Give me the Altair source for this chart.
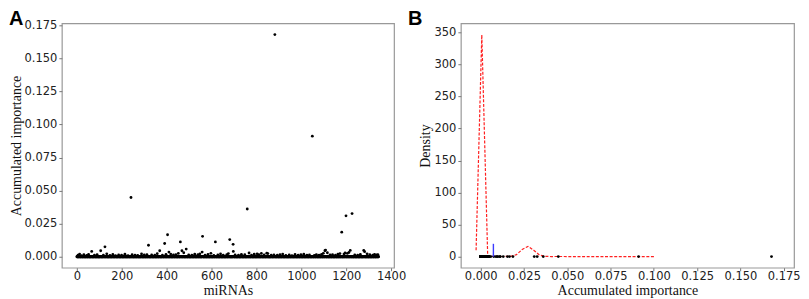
import altair as alt
import pandas as pd

# ---------------- data ----------------
N_MIRNA = 1345

# clearly visible outliers (index, accumulated importance)
major_idx = [125, 241, 319, 391, 404, 461, 560, 617, 681, 696, 759, 882, 1049, 1180, 1199, 1226]
major_val = [0.0075, 0.0448, 0.0087, 0.0100, 0.0166, 0.0112, 0.0154, 0.0112, 0.0130, 0.0094,
             0.0361, 0.1680, 0.0912, 0.0186, 0.0309, 0.0326]

# small bumps on the near-zero band
minor_idx = [5, 12, 20, 31, 44, 52, 66, 78, 90, 106, 118, 133, 147, 160, 172, 186, 199, 214, 228,
             246, 259, 271, 288, 300, 312, 333, 347, 358, 369, 381, 397, 410, 418, 430, 441, 452,
             468, 476, 487, 498, 512, 525, 539, 548, 558, 571, 584, 597, 610, 628, 640, 652, 668,
             675, 697, 705, 720, 733, 748, 767, 778, 790, 803, 811, 822, 834, 846, 851, 866, 878,
             893, 905, 917, 931, 946, 958, 972, 986, 998, 1011, 1025, 1036, 1058, 1067, 1079,
             1090, 1098, 1105, 1108, 1116, 1128, 1139, 1152, 1163, 1172, 1190, 1195, 1205, 1212,
             1218, 1238, 1251, 1263, 1278, 1282, 1293, 1305, 1318, 1326, 1335, 1341]
minor_val = [0.0012, 0.0020, 0.0008, 0.0015, 0.0010, 0.0018, 0.0040, 0.0011, 0.0016, 0.0045,
             0.0012, 0.0022, 0.0010, 0.0017, 0.0009, 0.0014, 0.0011, 0.0019, 0.0008, 0.0015,
             0.0012, 0.0010, 0.0021, 0.0013, 0.0016, 0.0014, 0.0011, 0.0023, 0.0045, 0.0012,
             0.0018, 0.0035, 0.0020, 0.0013, 0.0016, 0.0025, 0.0045, 0.0030, 0.0058, 0.0014,
             0.0011, 0.0019, 0.0015, 0.0022, 0.0035, 0.0012, 0.0017, 0.0026, 0.0010, 0.0014,
             0.0021, 0.0012, 0.0016, 0.0024, 0.0040, 0.0013, 0.0011, 0.0018, 0.0015, 0.0028,
             0.0012, 0.0019, 0.0022, 0.0016, 0.0025, 0.0013, 0.0027, 0.0024, 0.0012, 0.0014,
             0.0011, 0.0016, 0.0020, 0.0010, 0.0013, 0.0009, 0.0017, 0.0012, 0.0015, 0.0019,
             0.0011, 0.0014, 0.0010, 0.0016, 0.0012, 0.0018, 0.0026, 0.0045, 0.0050, 0.0030,
             0.0013, 0.0016, 0.0011, 0.0019, 0.0024, 0.0020, 0.0028, 0.0025, 0.0032, 0.0048,
             0.0014, 0.0011, 0.0017, 0.0048, 0.0038, 0.0022, 0.0015, 0.0012, 0.0018, 0.0013,
             0.0016]

# density curve of panel B (dashed red)
kde_x = [-0.0027, 0.0006, 0.0040, 0.0073, 0.0106, 0.0139, 0.0173, 0.0206, 0.0239, 0.0273,
         0.0306, 0.0339, 0.0373, 0.0406, 0.0439, 0.0472, 0.0506, 0.0539, 0.0572, 0.0606,
         0.0639, 0.0672, 0.0706, 0.0739, 0.0772, 0.0805, 0.0839, 0.0872, 0.0905, 0.0939,
         0.0972, 0.1005]
kde_y = [10, 346, 1.5, 0.3, 0.2, 0.2, 0.5, 3.0, 11.0, 16.0,
         10.0, 2.5, 0.4, 0.1, 0.2, 0.2, 0.1, 0.0, 0.0, 0.0,
         0.0, 0.0, 0.0, 0.0, 0.0, 0.0, 0.0, 0.0, 0.1, 0.1,
         0.0, 0.0]

# blue marker line
blue_x = [0.0073]
blue_y0 = [0]
blue_y1 = [20]

xA_ticks = [0, 200, 400, 600, 800, 1000, 1200, 1400]
yA_ticks = [0.0, 0.025, 0.05, 0.075, 0.1, 0.125, 0.15, 0.175]
xB_ticks = [0.0, 0.025, 0.05, 0.075, 0.1, 0.125, 0.15, 0.175]
yB_ticks = [0, 50, 100, 150, 200, 250, 300, 350]

vals = [0.0] * N_MIRNA
for i, v in zip(minor_idx, minor_val):
    vals[i] = v
for i, v in zip(major_idx, major_val):
    vals[i] = v

dfA = pd.DataFrame({"idx": list(range(N_MIRNA)), "imp": vals})
dfB_pts = pd.DataFrame({"imp": vals, "zero": [0.0] * N_MIRNA})
dfK = pd.DataFrame({"x": kde_x, "y": kde_y})
dfBlue = pd.DataFrame({"x": blue_x, "y0": blue_y0, "y1": blue_y1})

LABEL_FONT = "DejaVu Sans"
TITLE_FONT = "Liberation Serif"


def axis(values, title, fmt, label_pad, title_pad):
    return alt.Axis(values=values, title=title, format=fmt, grid=False, domain=False,
                    tickSize=3, tickColor="#777", labelFont=LABEL_FONT, labelFontSize=11.5,
                    labelColor="#222", labelPadding=label_pad, labelOverlap=False, labelFlush=False,
                    titleFont=TITLE_FONT, titleFontSize=14,
                    titleFontWeight="normal", titleColor="#111", titlePadding=title_pad)


W_A, W_B, H = 333, 334, 245

xA = alt.X("idx:Q", scale=alt.Scale(domain=[-67, 1413], nice=False, zero=False),
           axis=axis(xA_ticks, "miRNAs", "d", 0, 1))
yA = alt.Y("imp:Q", scale=alt.Scale(domain=[-0.0083, 0.1765], nice=False, zero=False),
           axis=axis(yA_ticks, "Accumulated importance", ".3f", 2, 1))

ptsA = alt.Chart(dfA).mark_circle(size=8, color="black", opacity=1).encode(x=xA, y=yA)
letterA = alt.Chart(pd.DataFrame({"t": ["A"]})).mark_text(
    font="Liberation Sans", fontWeight="bold", fontSize=20, align="left", baseline="alphabetic",
    color="black").encode(x=alt.value(-53), y=alt.value(2), text="t:N")
panelA = alt.layer(ptsA, letterA).properties(width=W_A, height=H)

xsB = alt.Scale(domain=[-0.0115, 0.181], nice=False, zero=False)
ysB = alt.Scale(domain=[-17.3, 364], nice=False, zero=False)
xB_axis = axis(xB_ticks, "Accumulated importance", ".3f", 0, 1)
yB_axis = axis(yB_ticks, "Density", "d", 2, 1)

kde = alt.Chart(dfK).mark_line(color="#ff2020", strokeDash=[3, 1.6], strokeWidth=1.2).encode(
    x=alt.X("x:Q", scale=xsB, axis=xB_axis),
    y=alt.Y("y:Q", scale=ysB, axis=yB_axis))
ptsB = alt.Chart(dfB_pts).mark_circle(size=8, color="black", opacity=1).encode(
    x=alt.X("imp:Q", scale=xsB, axis=xB_axis), y=alt.Y("zero:Q", scale=ysB, axis=yB_axis))
blue = alt.Chart(dfBlue).mark_rule(color="#3c3cff", strokeWidth=1.4).encode(
    x=alt.X("x:Q", scale=xsB, axis=xB_axis), y=alt.Y("y0:Q", scale=ysB, axis=yB_axis), y2="y1:Q")
letterB = alt.Chart(pd.DataFrame({"t": ["B"]})).mark_text(
    font="Liberation Sans", fontWeight="bold", fontSize=20, align="left", baseline="alphabetic",
    color="black").encode(x=alt.value(-53), y=alt.value(2), text="t:N")
panelB = alt.layer(kde, ptsB, blue, letterB).properties(width=W_B, height=H)

chart = alt.hconcat(panelA, panelB, spacing=67, bounds="flush").properties(
    padding=0, background="white"
).configure_view(stroke="#999", strokeWidth=1.2).resolve_scale(x="independent", y="independent")

chart.save("out.html", embed_options={"renderer": "svg", "actions": False})
